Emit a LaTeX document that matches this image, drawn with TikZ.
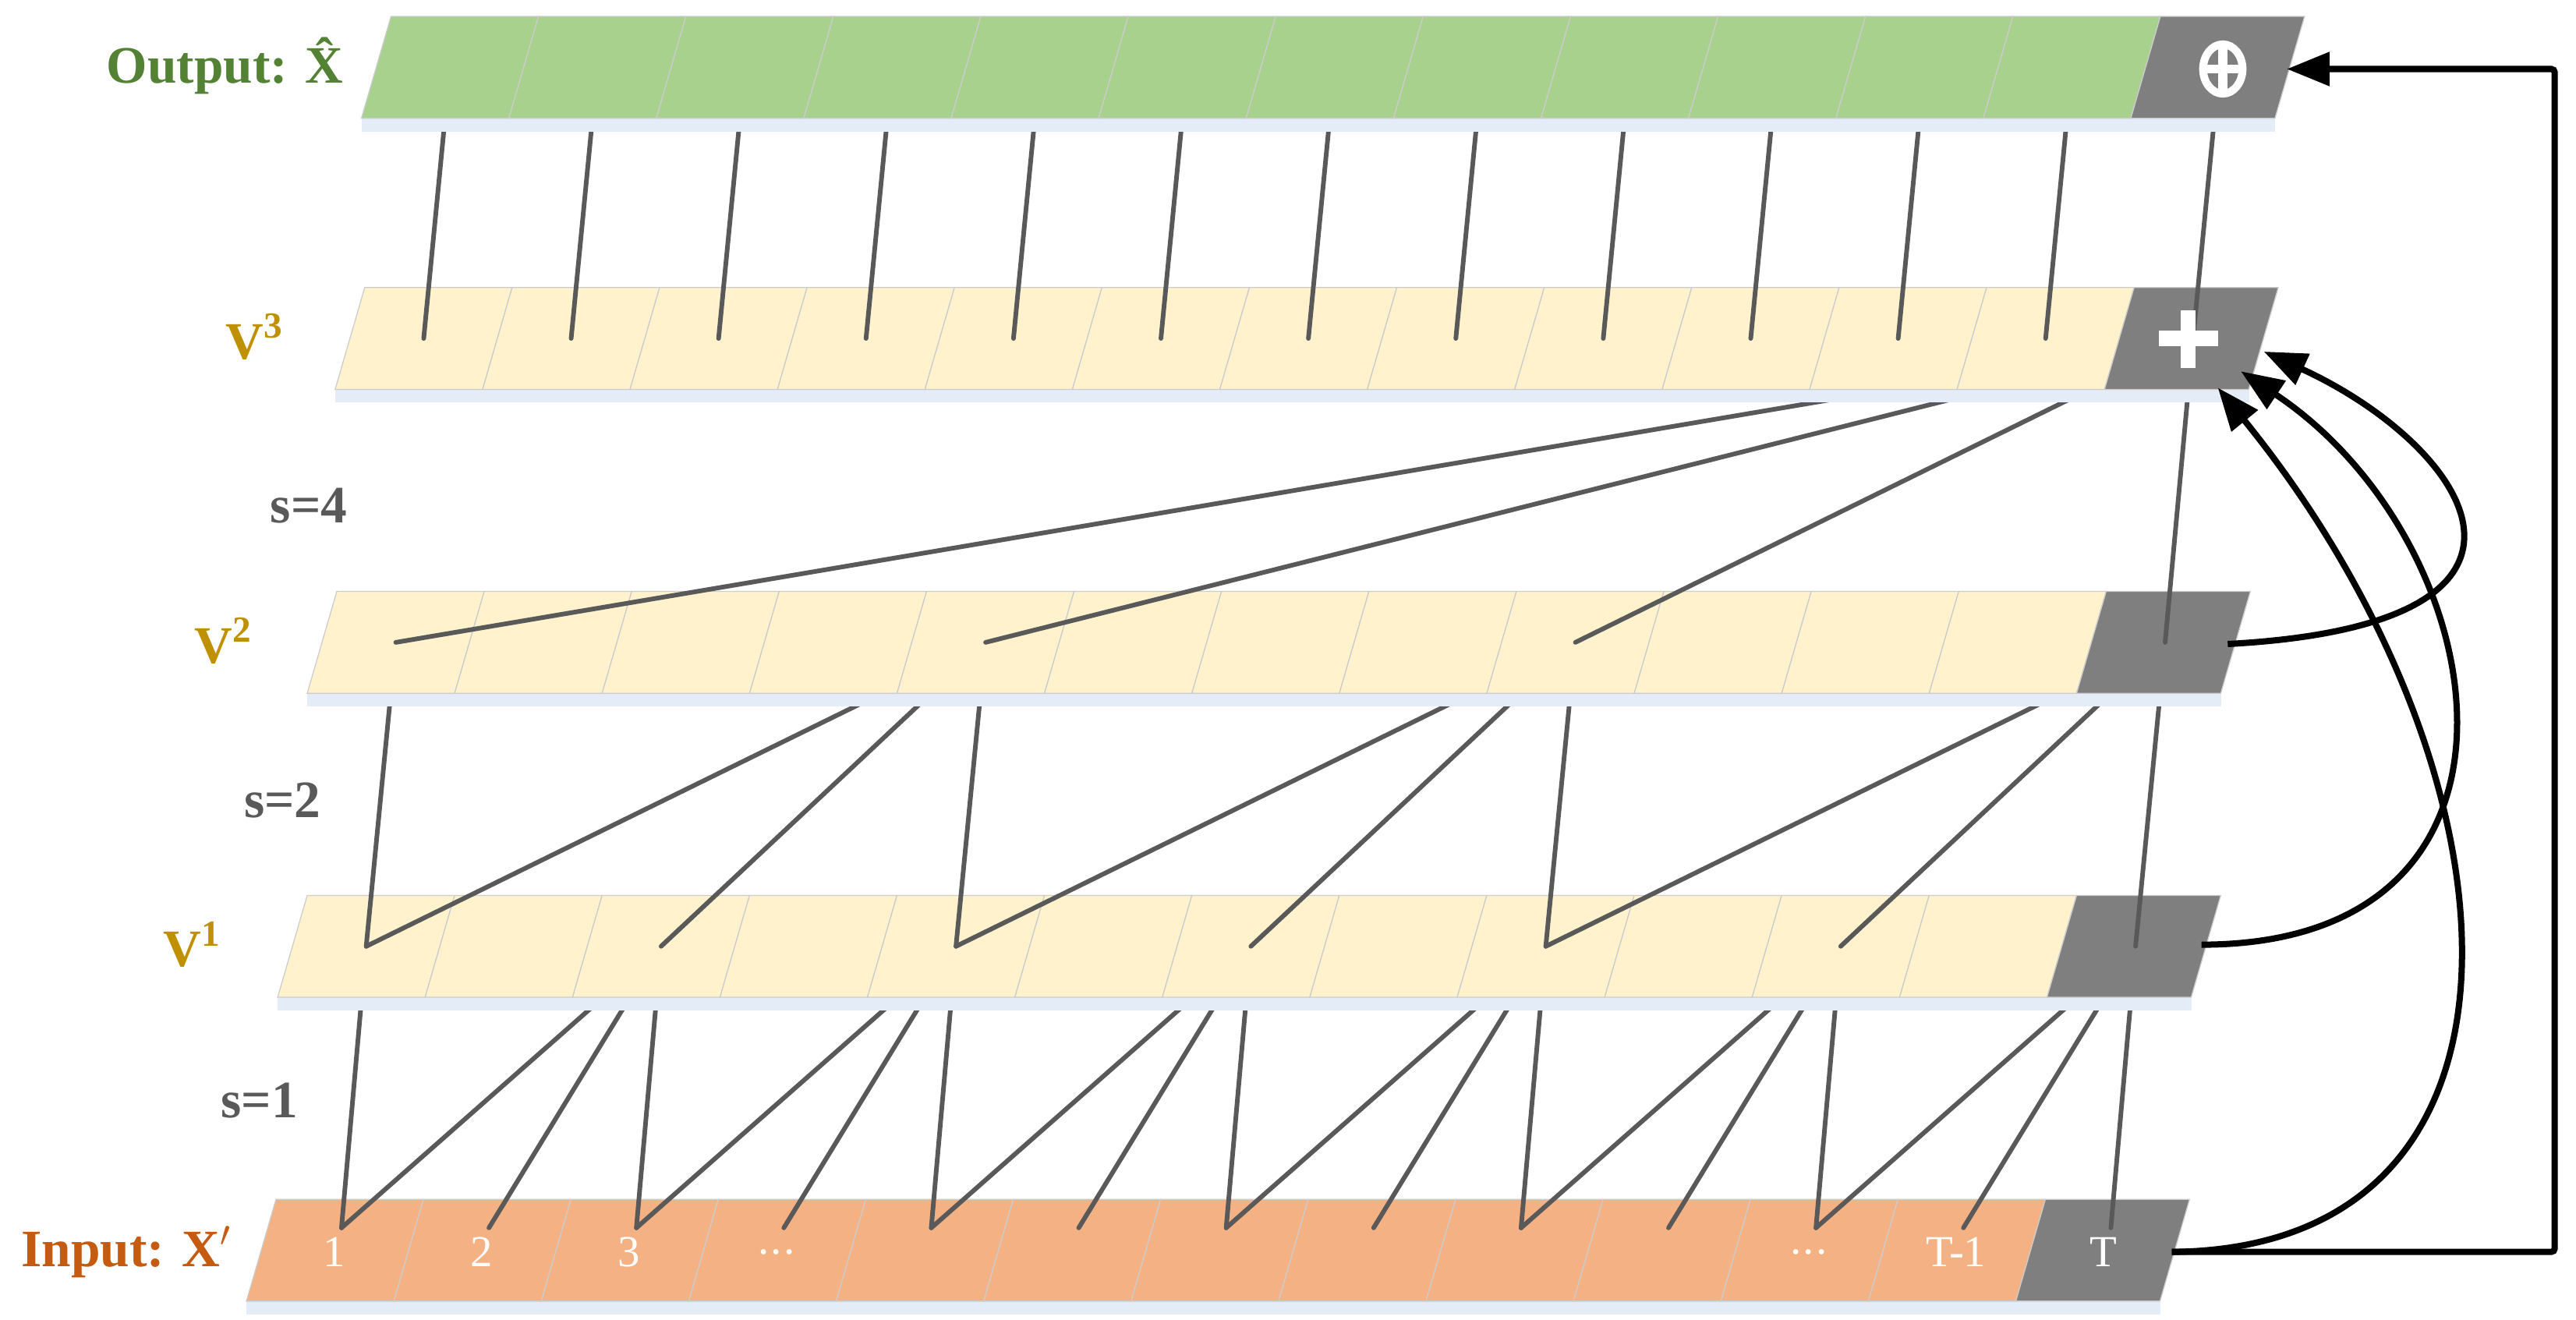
\documentclass[tikz,border=0pt]{standalone}
\usepackage{fontspec}
\setmainfont{Liberation Serif}
\usetikzlibrary{arrows.meta}
\definecolor{cgreen}{HTML}{A9D18E}
\definecolor{cpale}{HTML}{FFF2CC}
\definecolor{corange}{HTML}{F4B183}
\definecolor{cgray}{HTML}{7F7F7F}
\definecolor{tgreen}{HTML}{548235}
\definecolor{tgold}{HTML}{BF9000}
\definecolor{torange}{HTML}{C55A11}
\definecolor{tgray}{HTML}{595959}
\definecolor{shad}{HTML}{E3ECF7}
\tikzset{
  conn/.style={draw=tgray,line width=1.4pt,line cap=round},
  arr/.style={draw=black,line width=1.9pt,-{Triangle[length=13pt,width=10pt]}},
  lab/.style={font=\bfseries\fontsize{16}{16}\selectfont},
  num/.style={text=white,font=\fontsize{13.5}{13.5}\selectfont},
}
\newcommand\mystrip[4]{%
  \fill[shad] (#2-18,#3+62) rectangle (#2+12*89.75+70,#3+70);
  \foreach \i in {0,...,11}{
    \filldraw[fill=#4,draw=black!20,line width=0.3pt]
      (#2+\i*89.75,#3) -- (#2+\i*89.75+89.75,#3) -- (#2+\i*89.75+71.75,#3+62) -- (#2+\i*89.75-18,#3+62) -- cycle;}
  \filldraw[fill=cgray,draw=black!20,line width=0.3pt]
      (#2+12*89.75,#3) -- (#2+13*89.75-2,#3) -- (#2+13*89.75-20,#3+62) -- (#2+12*89.75-18,#3+62) -- cycle;
}
\newcommand\mypts[4]{%
  \foreach \i in {0,...,12}{
    \coordinate (#1-\i) at (#2+\i*89.75+44.9-18*#4,#3+62*#4);}
}
\newcommand\mydots{.\kern0.5pt.\kern0.5pt.}
\begin{document}
\begin{tikzpicture}[x=0.5pt,y=-0.5pt]
\useasboundingbox (0,0) rectangle (1568,803);
\mypts{o}{238}{10}{0.5}
\mypts{c}{222}{175}{0.5}
\mypts{b}{205}{360}{0.5}
\mypts{a}{187}{545}{0.5}
\mypts{x}{168}{730}{0.28}
\mystrip{in}{168}{730}{corange}
\draw[conn] (a-0) -- (x-0);
\foreach \k in {2,4,6,8,10,12}{
  \pgfmathtruncatemacro\ka{\k-2}\pgfmathtruncatemacro\kb{\k-1}
  \draw[conn] (x-\ka) -- (a-\k) -- (x-\kb);
  \draw[conn] (a-\k) -- (x-\k);}
\mystrip{v1}{187}{545}{cpale}
\draw[conn] (b-0) -- (a-0);
\foreach \k in {4,8,12}{
  \pgfmathtruncatemacro\ka{\k-4}\pgfmathtruncatemacro\kb{\k-2}
  \draw[conn] (a-\ka) -- (b-\k) -- (a-\kb);
  \draw[conn] (b-\k) -- (a-\k);}
\mystrip{v2}{205}{360}{cpale}
\foreach \k in {0,4,8,12}{\draw[conn] (c-12) -- (b-\k);}
\mystrip{v3}{222}{175}{cpale}
\foreach \k in {0,1,2,3,4,5,6,7,8,9,10,11,12}{\draw[conn] (o-\k) -- (c-\k);}
\mystrip{out}{238}{10}{cgreen}
\draw[white,line width=2.4pt] (1353,42) ellipse (12 and 15);
\draw[white,line width=2.8pt] (1353,28) -- (1353,56) (1340,42) -- (1366,42);
\draw[white,line width=4.6pt] (1332,189) -- (1332,224) (1314,206) -- (1350,206);
\foreach \i/\t in {0/1,1/2,2/3,3/\mydots,10/\mydots,11/T-1,12/T}{
  \node[num] at (168+\i*89.75+44.9-9.5,762) {\t};}
\node[lab,text=tgreen,anchor=east] (lo) at (216,40) {Output: \^{X}};
\node[lab,text=tgold] (l3) at (155,205) {V$^{\mathbf{3}}$};
\node[lab,text=tgold] (l2) at (136,390) {V$^{\mathbf{2}}$};
\node[lab,text=tgold] (l1) at (117,575) {V$^{\mathbf{1}}$};
\node[lab,text=torange,anchor=east] (li) at (148,762) {Input: X$'$};
\node[lab,text=tgray] (s4) at (188,308) {s=4};
\node[lab,text=tgray] (s2) at (172,487) {s=2};
\node[lab,text=tgray] (s1) at (158,670) {s=1};
\coordinate (tin) at (1322,762);
\coordinate (ta1) at (1340,575);
\coordinate (ta2) at (1356,392);
\coordinate (p1) at (1350,236);
\coordinate (p2) at (1364,226);
\coordinate (p3) at (1378,214);
\coordinate (q1) at (1555,762);
\coordinate (q2) at (1555,42);
\coordinate (qo) at (1392,42);
\draw[arr,rounded corners=1pt] (tin) -- (q1) -- (q2) -- (qo);
\draw[arr] (tin) .. controls (1560,760) and (1540,470) .. (p1);
\draw[arr] (ta1) .. controls (1560,575) and (1520,330) .. (p2);
\draw[arr] (ta2) .. controls (1580,380) and (1500,270) .. (p3);
\end{tikzpicture}
\end{document}
